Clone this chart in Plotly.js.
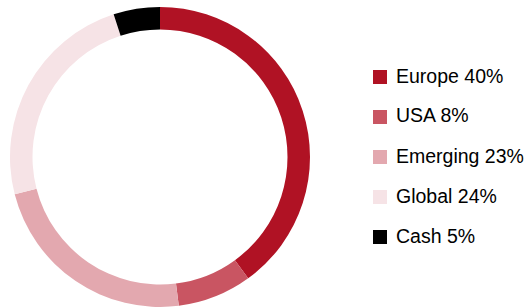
<!DOCTYPE html>
<html>
<head>
<meta charset="utf-8">
<script src="https://cdn.plot.ly/plotly-3.0.1.min.js"></script>
<style>html,body{margin:0;padding:0;background:#fff;}#chart{width:524px;height:307px;}</style>
</head>
<body>
<div id="chart"></div>
<script>
var regions = ["Europe", "USA", "Emerging", "Global", "Cash"];
var shares = [40, 8, 23, 24, 5];
var colors = ["#B01224", "#C95562", "#E3A8AF", "#F6E3E6", "#000000"];

var W = 524, H = 307;
function px(x){ return x / W; }
function py(y){ return (H - y) / H; }

var trace = {
  type: "pie",
  labels: regions,
  values: shares,
  marker: {colors: colors, line: {width: 0}},
  hole: 0.85,
  sort: false,
  direction: "clockwise",
  rotation: 0,
  textinfo: "none",
  hoverinfo: "label+percent",
  showlegend: false,
  domain: {x: [px(10), px(310)], y: [py(307), py(7)]}
};

var shapes = [], annotations = [];
for (var i = 0; i < regions.length; i++) {
  var cy = 77 + 40 * i;
  shapes.push({type: "rect", xref: "paper", yref: "paper",
    x0: px(373), x1: px(387), y0: py(cy - 7), y1: py(cy + 7),
    fillcolor: colors[i], line: {width: 0}});
  annotations.push({xref: "paper", yref: "paper", x: px(394), y: py(cy - 1.5),
    xanchor: "left", yanchor: "middle", showarrow: false,
    text: regions[i] + " " + shares[i] + "%",
    font: {family: "Liberation Sans, Arial, sans-serif", size: 19.5, color: "#000"}});
}

var layout = {
  width: W, height: H,
  margin: {l: 0, r: 0, t: 0, b: 0},
  paper_bgcolor: "#fff",
  showlegend: false,
  shapes: shapes,
  annotations: annotations
};
Plotly.newPlot("chart", [trace], layout, {displayModeBar: false, staticPlot: true});
</script>
</body>
</html>
